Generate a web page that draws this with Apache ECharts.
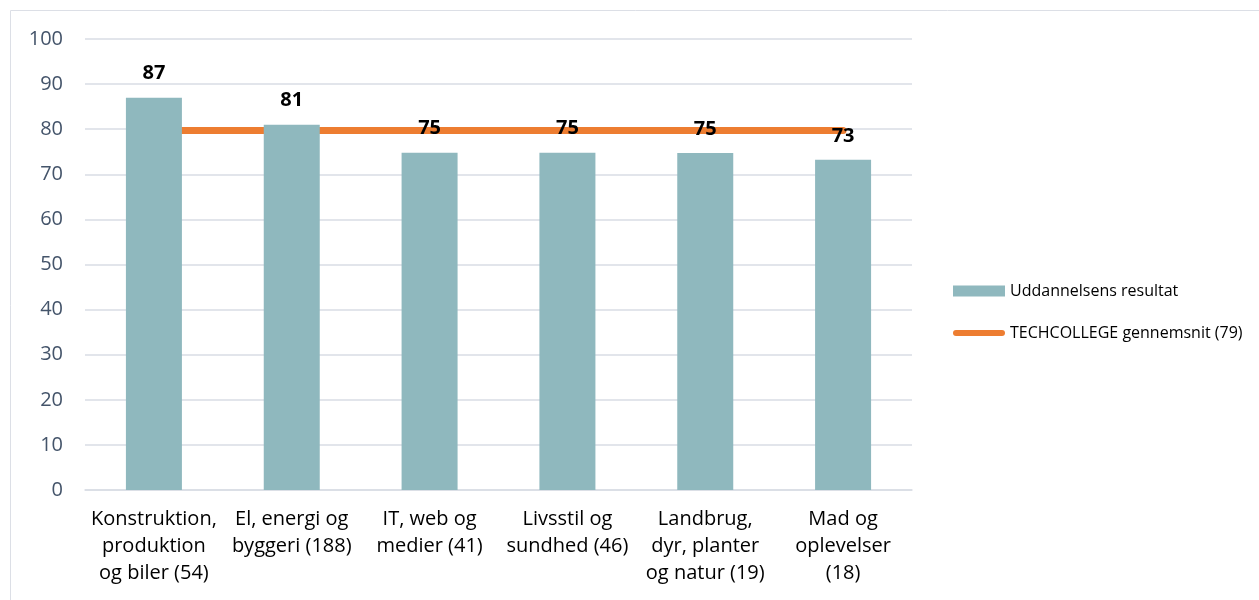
<!DOCTYPE html>
<html><head><meta charset="utf-8">
<script src="https://cdn.jsdelivr.net/npm/echarts@6/dist/echarts.min.js"></script>
<style>html,body{margin:0;padding:0;background:#fff}#c{width:1259px;height:600px}</style>
</head><body><div id="c"></div>
<script>
const categories = ["Konstruktion,\nproduktion\nog biler (54)", "El, energi og\nbyggeri (188)", "IT, web og\nmedier (41)", "Livsstil og\nsundhed (46)", "Landbrug,\ndyr, planter\nog natur (19)", "Mad og\noplevelser\n(18)"];
const results = [87.0, 81.0, 74.8, 74.8, 74.7, 73.2];
const average = [79.7, 79.7, 79.7, 79.7, 79.7, 79.7];
const seriesNames = ["Uddannelsens resultat", "TECHCOLLEGE gennemsnit (79)"];

const chart = echarts.init(document.getElementById('c'));
const font = "'Open Sans', 'Noto Sans', sans-serif";
chart.setOption({
  animation: false,
  graphic: [{type:'rect', shape:{x:10.5,y:10.5,width:1260,height:600}, style:{fill:'none', stroke:'#dcdfe6', lineWidth:1}}],
  grid: {left: 85, right: 347, top: 39, bottom: 110, containLabel: false},
  legend: {
    orient: 'vertical', left: 948, top: 278, itemGap: 26,
    itemWidth: 52, itemHeight: 11,
    textStyle: {fontFamily: font, fontSize: 16, color: '#000'},
    data: [
      {name: seriesNames[0], icon: 'rect'},
      {name: seriesNames[1], icon: 'path://M3,0 L49,0 A3,3 0 0 1 49,6 L3,6 A3,3 0 0 1 3,0 Z', itemStyle: {color: '#ed7d31'}}
    ]
  },
  xAxis: {
    type: 'category', data: categories,
    axisLine: {lineStyle: {color: '#d9dde5', width: 1.5}},
    axisTick: {show: false},
    axisLabel: {fontFamily: font, fontSize: 20, color: '#000', lineHeight: 27, margin: 16, interval: 0}
  },
  yAxis: {
    type: 'value', min: 0, max: 100, interval: 10,
    axisLine: {show: false}, axisTick: {show: false},
    splitLine: {lineStyle: {color: '#d9dde5', width: 1.5}},
    axisLabel: {fontFamily: font, fontSize: 20, color: '#44546a', margin: 22}
  },
  series: [
    {
      name: seriesNames[0], type: 'bar', data: results, barWidth: 56,
      itemStyle: {color: '#8fb8be'},
      label: {show: true, position: 'top', distance: 14, fontFamily: font, fontSize: 20, fontWeight: 'bold', color: '#000',
        formatter: p => Math.round(p.value)}
    },
    {
      name: seriesNames[1], type: 'line', data: average, showSymbol: false, symbol: 'none',
      lineStyle: {color: '#ed7d31', width: 7, cap: 'round'},
      itemStyle: {color: '#ed7d31'}, z: 1
    }
  ]
});
</script></body></html>
